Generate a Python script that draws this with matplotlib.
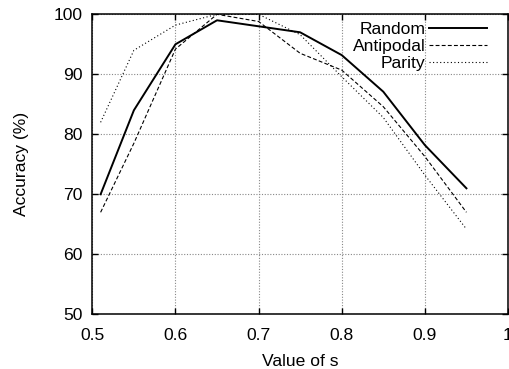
import matplotlib
matplotlib.use("Agg")
import matplotlib.pyplot as plt

s_values = [0.51, 0.55, 0.60, 0.65, 0.70, 0.75, 0.80, 0.85, 0.90, 0.95]
random_acc = [70, 84, 95, 99, 98, 97, 93.2, 87.1, 78.2, 71]
antipodal_acc = [67, 78.5, 94.2, 100, 98.8, 93.5, 90.7, 84.6, 76.3, 67]
parity_acc = [82, 94, 98.2, 100, 100, 96.6, 89.6, 82.8, 73.2, 64.2]

x_ticks = [0.5, 0.6, 0.7, 0.8, 0.9, 1.0]
x_ticklabels = ["0.5", "0.6", "0.7", "0.8", "0.9", "1"]
y_ticks = [50, 60, 70, 80, 90, 100]

plt.rcParams['font.family'] = ['Liberation Sans', 'DejaVu Sans']
FS = 12.6
plt.rcParams['font.size'] = FS

fig = plt.figure(figsize=(5.10, 3.69), dpi=100)
ax = fig.add_axes([92.3/510, 1 - 314.3/369, (508 - 92.3)/510, (314.3 - 14.3)/369])

ax.plot(s_values, random_acc, color='black', lw=1.4, linestyle='-', label='Random')
ax.plot(s_values, antipodal_acc, color='black', lw=0.8, linestyle=(0, (3.5, 2)), label='Antipodal')
ax.plot(s_values, parity_acc, color='black', lw=0.8, linestyle=(0, (1, 2.2)), label='Parity')

ax.set_xlim(0.5, 1.0)
ax.set_ylim(50, 100)
ax.set_xticks(x_ticks)
ax.set_xticklabels(x_ticklabels)
ax.set_yticks(y_ticks)
ax.grid(True, color='#888888', linestyle=(0, (1, 1.5)), lw=0.8)
ax.tick_params(direction='in', length=4, width=1.0, top=True, right=True,
               labelsize=FS, color='black')
ax.tick_params(axis='x', pad=10)
ax.tick_params(axis='y', pad=7)
for sp in ax.spines.values():
    sp.set_linewidth(1.1)

ax.set_xlabel('Value of s', fontsize=FS, labelpad=8)
ax.set_ylabel('Accuracy (%)', fontsize=FS, labelpad=18)

leg = ax.legend(loc='upper right', bbox_to_anchor=(0.949, 0.975), markerfirst=False,
                frameon=False, borderaxespad=0.0, borderpad=0.0,
                handlelength=3.3, handletextpad=0.2, labelspacing=0.1,
                fontsize=FS)

fig.savefig('out.png', dpi=100)
